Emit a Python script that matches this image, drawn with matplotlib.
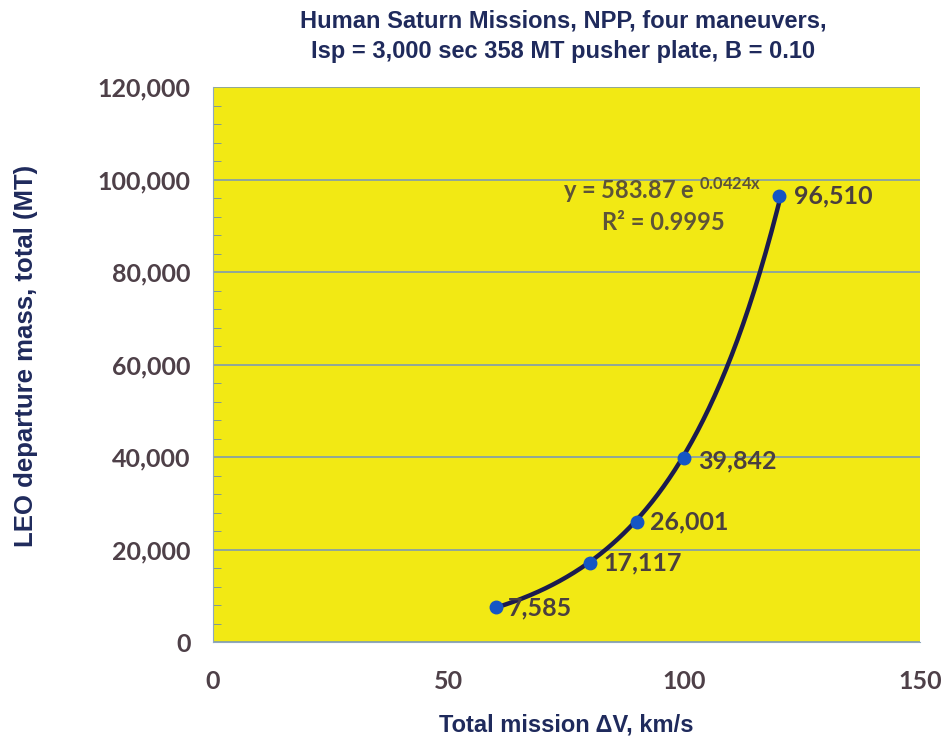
import numpy as np
import matplotlib
matplotlib.use('Agg')
import matplotlib.pyplot as plt
from matplotlib.ticker import FuncFormatter, MultipleLocator

# data
delta_v = [60, 80, 90, 100, 120]
leo_mass = [7585, 17117, 26001, 39842, 96510]
point_labels = ['7,585', '17,117', '26,001', '39,842', '96,510']

# exponential trendline as printed on the chart
fit_a = 583.87
fit_b = 0.0424
fit_text = 'y = 583.87 e $\\mathregular{^{0.0424x}}$'
r2_text = 'R² = 0.9995'

navy = '#1f2a5c'
tick_col = '#4e4048'
lbl_font = ['Lato', 'DejaVu Sans']

fig = plt.figure(figsize=(9.46, 7.4), dpi=100)
ax = fig.add_axes([0.225, 0.1324, 0.7475, 0.7496])
ax.set_facecolor('#f2e914')

xs = np.linspace(delta_v[0], delta_v[-1], 200)
ax.plot(xs, fit_a * np.exp(fit_b * xs), color='#1b1b4f', lw=3.2, zorder=3)
ax.plot(delta_v, leo_mass, 'o', color='#1556c4', ms=9, zorder=4)

offsets = [(9, -1), (10, 0), (9, 0), (10, -2), (11, 0)]
for x, y, lab, off in zip(delta_v, leo_mass, point_labels, offsets):
    ax.annotate(lab, (x, y), xytext=off, textcoords='offset points',
                fontsize=18, fontweight='bold', color='#4a3f3f',
                family=lbl_font, va='center', zorder=5)

ax.text(95.3, 97700, fit_text, fontsize=17, fontweight='bold', color='#5e5438',
        family=lbl_font, ha='center', va='center')
ax.text(95.5, 90800, r2_text, fontsize=17, fontweight='bold', color='#5e5438',
        family=lbl_font, ha='center', va='center')

ax.set_xlim(0, 150)
ax.set_ylim(0, 120000)
ax.set_xticks([0, 50, 100, 150])
ax.set_yticks(range(0, 120001, 20000))
ax.yaxis.set_minor_locator(MultipleLocator(4000))
ax.yaxis.set_major_formatter(FuncFormatter(lambda v, p: f'{int(v):,}'))
ax.grid(axis='y', color='#7f9bb0', lw=1.2)
ax.set_axisbelow(True)

for s in ['top', 'right']:
    ax.spines[s].set_visible(False)
for s in ['left', 'bottom']:
    ax.spines[s].set_color('#8fa8bf')
ax.tick_params(axis='y', which='major', length=0, pad=16, labelsize=18, labelcolor=tick_col)
ax.tick_params(axis='y', which='minor', direction='in', length=6, color='#6f8fa8')
ax.tick_params(axis='x', length=0, pad=20, labelsize=18, labelcolor=tick_col)
for lab in ax.get_xticklabels() + ax.get_yticklabels():
    lab.set_fontweight('bold')
    lab.set_family(lbl_font)

title_font = ['Liberation Sans', 'DejaVu Sans']
fig.text(0.595, 0.951, 'Human Saturn Missions, NPP, four maneuvers,\nIsp = 3,000 sec 358 MT pusher plate, B = 0.10',
         ha='center', va='center', fontsize=17, fontweight='bold', color=navy,
         family=title_font, linespacing=1.45)
fig.text(0.599, 0.02, 'Total mission ΔV, km/s', ha='center', va='center', fontsize=17,
         fontweight='bold', color=navy, family=title_font)
fig.text(0.027, 0.519, 'LEO departure mass, total (MT)', ha='center', va='center', rotation=90,
         fontsize=18.5, fontweight='bold', color=navy, family=title_font)

fig.savefig('out.png', dpi=100)
